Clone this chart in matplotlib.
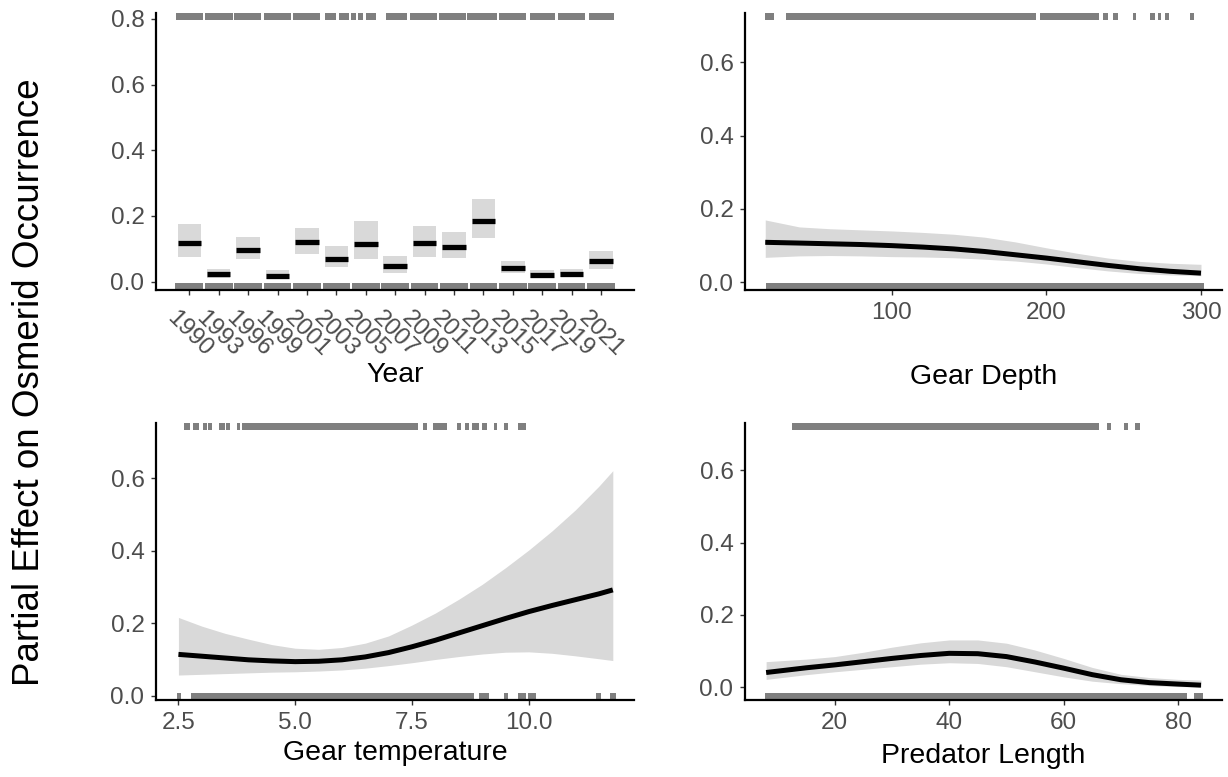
import numpy as np
import matplotlib
matplotlib.use("Agg")
import matplotlib.pyplot as plt

plt.rcParams["font.family"] = ["Liberation Sans", "DejaVu Sans"]

# ---- Year (factor) panel
YEARS = ["1990", "1993", "1996", "1999", "2001", "2003", "2005", "2007",
         "2009", "2011", "2013", "2015", "2017", "2019", "2021"]
YEAR_FIT = [0.118, 0.023, 0.097, 0.018, 0.120, 0.069, 0.115, 0.047,
            0.116, 0.106, 0.185, 0.040, 0.021, 0.024, 0.062]
YEAR_LO = [0.076, 0.011, 0.068, 0.009, 0.084, 0.044, 0.068, 0.025,
           0.076, 0.071, 0.132, 0.026, 0.012, 0.014, 0.038]
YEAR_HI = [0.174, 0.037, 0.135, 0.034, 0.162, 0.107, 0.183, 0.079,
           0.168, 0.150, 0.251, 0.062, 0.035, 0.037, 0.093]
# rug intervals in category units (1 = first year)
YEAR_RUG_TOP = [(0.55, 1.47), (1.55, 2.47), (2.53, 3.45), (3.53, 4.45), (4.54, 5.46),
                (5.60, 5.98), (6.08, 6.43), (6.49, 6.66), (6.74, 6.90), (7.00, 7.36),
                (7.68, 8.41), (8.51, 9.43), (9.48, 10.40), (10.45, 11.45), (11.52, 12.45),
                (12.60, 13.45), (13.55, 14.45), (14.60, 15.45)]
YEAR_RUG_BOT = [(0.53, 1.47), (1.53, 2.47), (2.53, 3.47), (3.53, 4.47), (4.53, 5.47),
                (5.53, 6.47), (6.53, 7.47), (7.53, 8.47), (8.53, 9.47), (9.53, 10.47),
                (10.53, 11.47), (11.53, 12.47), (12.53, 13.47), (13.53, 14.47), (14.53, 15.47)]

# ---- Gear depth
DEPTH_X = [18, 40, 60, 80, 100, 120, 140, 160, 180, 200, 220, 240, 260, 280, 300]
DEPTH_FIT = [0.109, 0.107, 0.105, 0.103, 0.100, 0.096, 0.091, 0.084, 0.075, 0.066,
             0.056, 0.046, 0.037, 0.030, 0.025]
DEPTH_LO = [0.068, 0.072, 0.073, 0.072, 0.070, 0.069, 0.067, 0.063, 0.058, 0.050,
            0.040, 0.031, 0.024, 0.020, 0.018]
DEPTH_HI = [0.170, 0.151, 0.146, 0.143, 0.140, 0.136, 0.131, 0.123, 0.110, 0.094,
            0.079, 0.066, 0.057, 0.052, 0.049]
DEPTH_RUG_TOP = [(17.7, 23.4), (31.3, 193.5), (195.8, 234.2), (236.5, 239.9), (243.3, 246.0),
                 (255.7, 258.0), (267.1, 270.5), (271.9, 274.2), (276.4, 279.3), (292.9, 295.2)]
DEPTH_RUG_BOT = [(18.4, 301.7)]

# ---- Gear temperature
TEMP_X = [2.5, 3.0, 3.5, 4.0, 4.5, 5.0, 5.5, 6.0, 6.5, 7.0, 7.5, 8.0, 8.5, 9.0,
          9.5, 10.0, 10.5, 11.0, 11.5, 11.8]
TEMP_FIT = [0.114, 0.109, 0.104, 0.099, 0.096, 0.094, 0.095, 0.099, 0.107, 0.119,
            0.135, 0.153, 0.173, 0.193, 0.213, 0.232, 0.249, 0.265, 0.281, 0.292]
TEMP_LO = [0.057, 0.059, 0.061, 0.063, 0.065, 0.066, 0.068, 0.071, 0.076, 0.083,
           0.091, 0.100, 0.108, 0.115, 0.120, 0.121, 0.117, 0.110, 0.102, 0.097]
TEMP_HI = [0.216, 0.192, 0.172, 0.156, 0.141, 0.131, 0.128, 0.133, 0.145, 0.165,
           0.195, 0.228, 0.266, 0.307, 0.353, 0.402, 0.455, 0.513, 0.578, 0.621]
TEMP_RUG_TOP = [(2.62, 2.75), (2.82, 2.93), (3.03, 3.12), (3.14, 3.22), (3.37, 3.50),
                (3.52, 3.61), (3.75, 3.82), (3.86, 7.63), (7.74, 7.83), (7.95, 8.24),
                (8.46, 8.55), (8.64, 8.73), (8.78, 8.93), (9.00, 9.11), (9.26, 9.33),
                (9.47, 9.55), (9.76, 9.94)]
TEMP_RUG_BOT = [(2.46, 2.55), (2.76, 8.82), (8.93, 9.15), (9.47, 9.55), (9.76, 9.94),
                (9.98, 10.16), (11.45, 11.54), (11.74, 11.86)]

# ---- Predator length
LEN_X = [8, 15, 20, 25, 30, 35, 40, 45, 50, 55, 60, 65, 70, 75, 80, 84]
LEN_FIT = [0.041, 0.054, 0.062, 0.071, 0.080, 0.088, 0.094, 0.093, 0.085, 0.070,
           0.053, 0.035, 0.021, 0.013, 0.009, 0.006]
LEN_LO = [0.022, 0.035, 0.043, 0.050, 0.057, 0.064, 0.068, 0.066, 0.057, 0.043,
          0.029, 0.017, 0.010, 0.005, 0.002, 0.001]
LEN_HI = [0.071, 0.078, 0.085, 0.097, 0.111, 0.123, 0.131, 0.131, 0.122, 0.103,
          0.080, 0.055, 0.036, 0.027, 0.022, 0.020]
LEN_RUG_TOP = [(12.6, 66.2), (67.6, 68.2), (70.6, 71.3), (72.5, 73.3)]
LEN_RUG_BOT = [(7.8, 81.5), (82.7, 84.3)]

RIBBON = "#d9d9d9"
RUG = "#7f7f7f"
TICKCOL = "#4d4d4d"
RUG_LEN = 0.027

W, H = 1228, 777
fig = plt.figure(figsize=(W / 100, H / 100), dpi=100)


def px_axes(left, top, right, bottom):
    return fig.add_axes([left / W, 1 - bottom / H, (right - left) / W, (bottom - top) / H])


def style(ax, xlim, ylim, yticks):
    ax.set_xlim(*xlim); ax.set_ylim(*ylim)
    ax.set_yticks(yticks)
    ax.set_yticklabels([f"{v:.1f}" for v in yticks])
    for s in ("top", "right"):
        ax.spines[s].set_visible(False)
    for s in ("left", "bottom"):
        ax.spines[s].set_linewidth(1.6)
    ax.tick_params(length=3.8, width=1.0, color="#333333", labelsize=17.5,
                   labelcolor=TICKCOL, pad=4.5)


def rugs(ax, top, bot):
    for a, b in top:
        ax.axvspan(a, b, ymin=1 - RUG_LEN, ymax=1, color=RUG, lw=0)
    for a, b in bot:
        ax.axvspan(a, b, ymin=0, ymax=RUG_LEN, color=RUG, lw=0)


def smooth(ax, x, fit, lo, hi):
    ax.fill_between(x, lo, hi, color=RIBBON, lw=0)
    ax.plot(x, fit, color="black", lw=3.6, solid_capstyle="butt", solid_joinstyle="round")


# (1) Year
ax1 = px_axes(156, 12.7, 634.3, 290.3)
xi = np.arange(1, len(YEARS) + 1)
ax1.bar(xi, np.array(YEAR_HI) - np.array(YEAR_LO), bottom=YEAR_LO, width=0.8,
        color=RIBBON, lw=0)
ax1.hlines(YEAR_FIT, xi - 0.4, xi + 0.4, color="black", lw=3.8)
rugs(ax1, YEAR_RUG_TOP, YEAR_RUG_BOT)
style(ax1, (-0.133, 16.133), (-0.0265, 0.8186), [0.0, 0.2, 0.4, 0.6, 0.8])
ax1.set_xticks(xi)
ax1.set_xticklabels(YEARS, rotation=-45, ha="center", va="top")
ax1.tick_params(axis="x", pad=8)
ax1.set_xlabel("Year", fontsize=20.5)
ax1.xaxis.set_label_coords(0.5, (290.3 - 375) / 277.6)
ax1.xaxis.label.set_va("center")

# (2) Gear depth
ax2 = px_axes(745, 12.7, 1222.3, 290.3)
smooth(ax2, DEPTH_X, DEPTH_FIT, DEPTH_LO, DEPTH_HI)
rugs(ax2, DEPTH_RUG_TOP, DEPTH_RUG_BOT)
style(ax2, (4.9, 313.8), (-0.0218, 0.735), [0.0, 0.2, 0.4, 0.6])
ax2.set_xticks([100, 200, 300])
ax2.set_xlabel("Gear Depth", fontsize=20.5)
ax2.xaxis.set_label_coords(0.5, (290.3 - 377) / 277.6)
ax2.xaxis.label.set_va("center")

# (3) Gear temperature
ax3 = px_axes(156, 422.7, 634.3, 700)
smooth(ax3, TEMP_X, TEMP_FIT, TEMP_LO, TEMP_HI)
rugs(ax3, TEMP_RUG_TOP, TEMP_RUG_BOT)
style(ax3, (2.02, 12.26), (-0.0119, 0.7535), [0.0, 0.2, 0.4, 0.6])
ax3.set_xticks([2.5, 5.0, 7.5, 10.0])
ax3.set_xticklabels(["2.5", "5.0", "7.5", "10.0"])
ax3.set_xlabel("Gear temperature", fontsize=20.5)
ax3.xaxis.set_label_coords(0.5, (700 - 753) / 277.3)
ax3.xaxis.label.set_va("center")

# (4) Predator length
ax4 = px_axes(745, 422.7, 1222.3, 700)
smooth(ax4, LEN_X, LEN_FIT, LEN_LO, LEN_HI)
rugs(ax4, LEN_RUG_TOP, LEN_RUG_BOT)
style(ax4, (4.31, 87.72), (-0.035, 0.7315), [0.0, 0.2, 0.4, 0.6])
ax4.set_xticks([20, 40, 60, 80])
ax4.set_xlabel("Predator Length", fontsize=20.5)
ax4.xaxis.set_label_coords(0.5, (700 - 756) / 277.3)
ax4.xaxis.label.set_va("center")

fig.text(30 / W, 0.508, "Partial Effect on Osmerid Occurrence", rotation=90,
         ha="center", va="center", fontsize=26.5)

fig.savefig("out.png", dpi=100)
